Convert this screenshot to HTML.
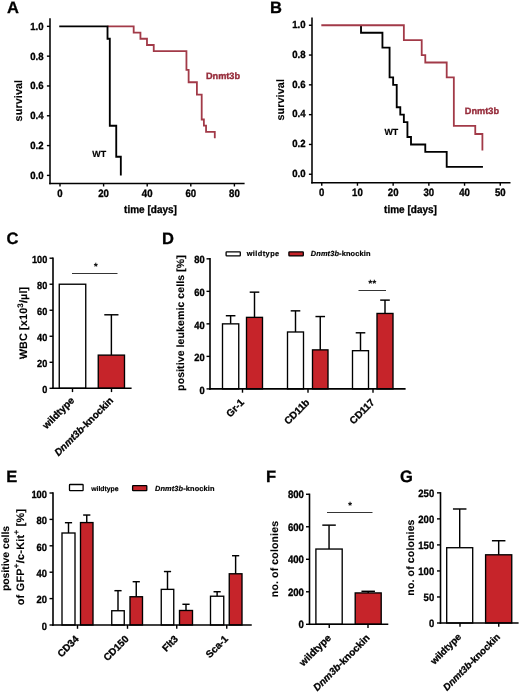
<!DOCTYPE html>
<html lang="en"><head><meta charset="utf-8"><title>Figure</title>
<style>
html,body{margin:0;padding:0;background:#fff;}
body{width:520px;height:693px;overflow:hidden;}
svg{display:block;text-rendering:geometricPrecision;font-family:"Liberation Sans",Arial,Helvetica,sans-serif;}
</style></head><body>
<svg width="520" height="693" viewBox="0 0 520 693">
<rect x="0" y="0" width="520" height="693" fill="#fff"/>
<g>
<path d="M107.52,26.35 L133.68,26.35 L133.68,32.56 L140.44,32.56 L140.44,38.77 L146.98,38.77 L146.98,44.98 L153.74,44.98 L153.74,51.19 L186.44,51.19 L186.44,69.82 L188.62,69.82 L188.62,82.24 L196.90,82.24 L196.90,94.66 L201.70,94.66 L201.70,119.51 L203.88,119.51 L203.88,125.72 L206.06,125.72 L206.06,131.93 L214.78,131.93 L214.78,138.14" fill="none" stroke="#a23a48" stroke-width="1.8" stroke-linejoin="miter" stroke-linecap="butt"/>
<path d="M59.24,26.35 L107.52,26.35 L107.52,38.77 L109.81,38.77 L109.81,125.72 L116.24,125.72 L116.24,156.77 L120.82,156.77 L120.82,175.40" fill="none" stroke="#000" stroke-width="1.85" stroke-linejoin="miter" stroke-linecap="butt"/>
<line x1="50.00" y1="18.30" x2="50.00" y2="184.25" stroke="#000" stroke-width="1.55" stroke-linecap="butt"/>
<line x1="49.20" y1="183.50" x2="244.60" y2="183.50" stroke="#000" stroke-width="1.55" stroke-linecap="butt"/>
<line x1="46.90" y1="175.40" x2="50.00" y2="175.40" stroke="#000" stroke-width="1.4" stroke-linecap="butt"/>
<text transform="translate(43.50 178.90) scale(1 1.08)" font-size="9.6" text-anchor="end" fill="#000" stroke="#000" stroke-width="0.3" font-weight="bold">0.0</text>
<line x1="46.90" y1="145.59" x2="50.00" y2="145.59" stroke="#000" stroke-width="1.4" stroke-linecap="butt"/>
<text transform="translate(43.50 149.09) scale(1 1.08)" font-size="9.6" text-anchor="end" fill="#000" stroke="#000" stroke-width="0.3" font-weight="bold">0.2</text>
<line x1="46.90" y1="115.78" x2="50.00" y2="115.78" stroke="#000" stroke-width="1.4" stroke-linecap="butt"/>
<text transform="translate(43.50 119.28) scale(1 1.08)" font-size="9.6" text-anchor="end" fill="#000" stroke="#000" stroke-width="0.3" font-weight="bold">0.4</text>
<line x1="46.90" y1="85.97" x2="50.00" y2="85.97" stroke="#000" stroke-width="1.4" stroke-linecap="butt"/>
<text transform="translate(43.50 89.47) scale(1 1.08)" font-size="9.6" text-anchor="end" fill="#000" stroke="#000" stroke-width="0.3" font-weight="bold">0.6</text>
<line x1="46.90" y1="56.16" x2="50.00" y2="56.16" stroke="#000" stroke-width="1.4" stroke-linecap="butt"/>
<text transform="translate(43.50 59.66) scale(1 1.08)" font-size="9.6" text-anchor="end" fill="#000" stroke="#000" stroke-width="0.3" font-weight="bold">0.8</text>
<line x1="46.90" y1="26.35" x2="50.00" y2="26.35" stroke="#000" stroke-width="1.4" stroke-linecap="butt"/>
<text transform="translate(43.50 29.85) scale(1 1.08)" font-size="9.6" text-anchor="end" fill="#000" stroke="#000" stroke-width="0.3" font-weight="bold">1.0</text>
<line x1="60.00" y1="183.50" x2="60.00" y2="186.50" stroke="#000" stroke-width="1.4" stroke-linecap="butt"/>
<text transform="translate(60.00 197.15) scale(1 1.12)" font-size="9.6" text-anchor="middle" fill="#000" stroke="#000" stroke-width="0.3" font-weight="bold">0</text>
<line x1="103.60" y1="183.50" x2="103.60" y2="186.50" stroke="#000" stroke-width="1.4" stroke-linecap="butt"/>
<text transform="translate(103.60 197.15) scale(1 1.12)" font-size="9.6" text-anchor="middle" fill="#000" stroke="#000" stroke-width="0.3" font-weight="bold">20</text>
<line x1="147.20" y1="183.50" x2="147.20" y2="186.50" stroke="#000" stroke-width="1.4" stroke-linecap="butt"/>
<text transform="translate(147.20 197.15) scale(1 1.12)" font-size="9.6" text-anchor="middle" fill="#000" stroke="#000" stroke-width="0.3" font-weight="bold">40</text>
<line x1="190.80" y1="183.50" x2="190.80" y2="186.50" stroke="#000" stroke-width="1.4" stroke-linecap="butt"/>
<text transform="translate(190.80 197.15) scale(1 1.12)" font-size="9.6" text-anchor="middle" fill="#000" stroke="#000" stroke-width="0.3" font-weight="bold">60</text>
<line x1="234.40" y1="183.50" x2="234.40" y2="186.50" stroke="#000" stroke-width="1.4" stroke-linecap="butt"/>
<text transform="translate(234.40 197.15) scale(1 1.12)" font-size="9.6" text-anchor="middle" fill="#000" stroke="#000" stroke-width="0.3" font-weight="bold">80</text>
<text transform="translate(150.50 212.80) scale(1 1.08)" font-size="10" text-anchor="middle" fill="#000" stroke="#000" stroke-width="0.3" font-weight="bold">time [days]</text>
<text x="21.90" y="100.60" font-size="10.8" text-anchor="middle" fill="#000" stroke="#000" stroke-width="0.12" font-weight="bold" transform="rotate(-90 21.90 100.60)" letter-spacing="0.1">survival</text>
<text x="205.90" y="78.60" font-size="9.2" text-anchor="start" fill="#962c3b" stroke="#962c3b" stroke-width="0.35" font-weight="bold">Dnmt3b</text>
<text x="92.30" y="157.20" font-size="8.9" text-anchor="start" fill="#000" stroke="#000" stroke-width="0.15" font-weight="bold">WT</text>
<text x="7.00" y="13.00" font-size="16.5" text-anchor="start" fill="#000" stroke="#000" stroke-width="0.3" font-weight="bold">A</text>
<path d="M361.02,25.25 L361.02,25.25 L361.02,32.70 L382.44,32.70 L382.44,47.60 L389.58,47.60 L389.58,77.40 L393.15,77.40 L393.15,84.85 L396.72,84.85 L396.72,107.20 L400.29,107.20 L400.29,114.65 L403.86,114.65 L403.86,122.10 L407.43,122.10 L407.43,137.00 L411.00,137.00 L411.00,144.45 L425.28,144.45 L425.28,151.90 L446.70,151.90 L446.70,166.80 L482.94,166.80" fill="none" stroke="#000" stroke-width="1.85" stroke-linejoin="miter" stroke-linecap="butt"/>
<path d="M321.32,25.25 L403.86,25.25 L403.86,40.15 L421.71,40.15 L421.71,55.05 L425.28,55.05 L425.28,62.50 L446.70,62.50 L446.70,77.40 L453.84,77.40 L453.84,125.82 L475.26,125.82 L475.26,134.02 L482.40,134.02 L482.40,150.41" fill="none" stroke="#a23a48" stroke-width="1.8" stroke-linejoin="miter" stroke-linecap="butt"/>
<line x1="312.00" y1="17.50" x2="312.00" y2="183.50" stroke="#000" stroke-width="1.55" stroke-linecap="butt"/>
<line x1="311.20" y1="182.75" x2="510.50" y2="182.75" stroke="#000" stroke-width="1.55" stroke-linecap="butt"/>
<line x1="308.90" y1="174.25" x2="312.00" y2="174.25" stroke="#000" stroke-width="1.4" stroke-linecap="butt"/>
<text transform="translate(305.50 176.95) scale(1 1.08)" font-size="9.6" text-anchor="end" fill="#000" stroke="#000" stroke-width="0.3" font-weight="bold">0.0</text>
<line x1="308.90" y1="144.45" x2="312.00" y2="144.45" stroke="#000" stroke-width="1.4" stroke-linecap="butt"/>
<text transform="translate(305.50 147.15) scale(1 1.08)" font-size="9.6" text-anchor="end" fill="#000" stroke="#000" stroke-width="0.3" font-weight="bold">0.2</text>
<line x1="308.90" y1="114.65" x2="312.00" y2="114.65" stroke="#000" stroke-width="1.4" stroke-linecap="butt"/>
<text transform="translate(305.50 117.35) scale(1 1.08)" font-size="9.6" text-anchor="end" fill="#000" stroke="#000" stroke-width="0.3" font-weight="bold">0.4</text>
<line x1="308.90" y1="84.85" x2="312.00" y2="84.85" stroke="#000" stroke-width="1.4" stroke-linecap="butt"/>
<text transform="translate(305.50 87.55) scale(1 1.08)" font-size="9.6" text-anchor="end" fill="#000" stroke="#000" stroke-width="0.3" font-weight="bold">0.6</text>
<line x1="308.90" y1="55.05" x2="312.00" y2="55.05" stroke="#000" stroke-width="1.4" stroke-linecap="butt"/>
<text transform="translate(305.50 57.75) scale(1 1.08)" font-size="9.6" text-anchor="end" fill="#000" stroke="#000" stroke-width="0.3" font-weight="bold">0.8</text>
<line x1="308.90" y1="25.25" x2="312.00" y2="25.25" stroke="#000" stroke-width="1.4" stroke-linecap="butt"/>
<text transform="translate(305.50 27.95) scale(1 1.08)" font-size="9.6" text-anchor="end" fill="#000" stroke="#000" stroke-width="0.3" font-weight="bold">1.0</text>
<line x1="321.75" y1="182.75" x2="321.75" y2="185.75" stroke="#000" stroke-width="1.4" stroke-linecap="butt"/>
<text transform="translate(321.75 196.40) scale(1 1.12)" font-size="9.6" text-anchor="middle" fill="#000" stroke="#000" stroke-width="0.3" font-weight="bold">0</text>
<line x1="357.45" y1="182.75" x2="357.45" y2="185.75" stroke="#000" stroke-width="1.4" stroke-linecap="butt"/>
<text transform="translate(357.45 196.40) scale(1 1.12)" font-size="9.6" text-anchor="middle" fill="#000" stroke="#000" stroke-width="0.3" font-weight="bold">10</text>
<line x1="393.15" y1="182.75" x2="393.15" y2="185.75" stroke="#000" stroke-width="1.4" stroke-linecap="butt"/>
<text transform="translate(393.15 196.40) scale(1 1.12)" font-size="9.6" text-anchor="middle" fill="#000" stroke="#000" stroke-width="0.3" font-weight="bold">20</text>
<line x1="428.85" y1="182.75" x2="428.85" y2="185.75" stroke="#000" stroke-width="1.4" stroke-linecap="butt"/>
<text transform="translate(428.85 196.40) scale(1 1.12)" font-size="9.6" text-anchor="middle" fill="#000" stroke="#000" stroke-width="0.3" font-weight="bold">30</text>
<line x1="464.55" y1="182.75" x2="464.55" y2="185.75" stroke="#000" stroke-width="1.4" stroke-linecap="butt"/>
<text transform="translate(464.55 196.40) scale(1 1.12)" font-size="9.6" text-anchor="middle" fill="#000" stroke="#000" stroke-width="0.3" font-weight="bold">40</text>
<line x1="500.25" y1="182.75" x2="500.25" y2="185.75" stroke="#000" stroke-width="1.4" stroke-linecap="butt"/>
<text transform="translate(500.25 196.40) scale(1 1.12)" font-size="9.6" text-anchor="middle" fill="#000" stroke="#000" stroke-width="0.3" font-weight="bold">50</text>
<text transform="translate(410.50 212.80) scale(1 1.08)" font-size="10" text-anchor="middle" fill="#000" stroke="#000" stroke-width="0.3" font-weight="bold">time [days]</text>
<text x="284.30" y="99.80" font-size="10.8" text-anchor="middle" fill="#000" stroke="#000" stroke-width="0.12" font-weight="bold" transform="rotate(-90 284.30 99.80)" letter-spacing="0.1">survival</text>
<text x="464.80" y="113.90" font-size="9.2" text-anchor="start" fill="#962c3b" stroke="#962c3b" stroke-width="0.35" font-weight="bold">Dnmt3b</text>
<text x="384.40" y="134.50" font-size="8.9" text-anchor="start" fill="#000" stroke="#000" stroke-width="0.15" font-weight="bold">WT</text>
<text x="270.00" y="13.00" font-size="16.5" text-anchor="start" fill="#000" stroke="#000" stroke-width="0.3" font-weight="bold">B</text>
<rect x="59.25" y="284.22" width="26.50" height="104.08" fill="#fff" stroke="#000" stroke-width="1.35"/>
<line x1="111.38" y1="314.79" x2="111.38" y2="355.12" stroke="#000" stroke-width="1.45" stroke-linecap="butt"/>
<line x1="104.28" y1="314.79" x2="118.47" y2="314.79" stroke="#000" stroke-width="1.45" stroke-linecap="butt"/>
<rect x="98.25" y="355.12" width="26.25" height="33.18" fill="#c6242a" stroke="#000" stroke-width="1.35"/>
<line x1="53.00" y1="257.55" x2="53.00" y2="389.05" stroke="#000" stroke-width="1.6" stroke-linecap="butt"/>
<line x1="52.20" y1="388.30" x2="131.60" y2="388.30" stroke="#000" stroke-width="1.6" stroke-linecap="butt"/>
<line x1="49.50" y1="388.30" x2="53.00" y2="388.30" stroke="#000" stroke-width="1.4" stroke-linecap="butt"/>
<text transform="translate(47.30 392.80) scale(1 1.12)" font-size="9.2" text-anchor="end" fill="#000" stroke="#000" stroke-width="0.3" font-weight="bold">0</text>
<line x1="49.50" y1="362.28" x2="53.00" y2="362.28" stroke="#000" stroke-width="1.4" stroke-linecap="butt"/>
<text transform="translate(47.30 366.78) scale(1 1.12)" font-size="9.2" text-anchor="end" fill="#000" stroke="#000" stroke-width="0.3" font-weight="bold">20</text>
<line x1="49.50" y1="336.26" x2="53.00" y2="336.26" stroke="#000" stroke-width="1.4" stroke-linecap="butt"/>
<text transform="translate(47.30 340.76) scale(1 1.12)" font-size="9.2" text-anchor="end" fill="#000" stroke="#000" stroke-width="0.3" font-weight="bold">40</text>
<line x1="49.50" y1="310.24" x2="53.00" y2="310.24" stroke="#000" stroke-width="1.4" stroke-linecap="butt"/>
<text transform="translate(47.30 314.74) scale(1 1.12)" font-size="9.2" text-anchor="end" fill="#000" stroke="#000" stroke-width="0.3" font-weight="bold">60</text>
<line x1="49.50" y1="284.22" x2="53.00" y2="284.22" stroke="#000" stroke-width="1.4" stroke-linecap="butt"/>
<text transform="translate(47.30 288.72) scale(1 1.12)" font-size="9.2" text-anchor="end" fill="#000" stroke="#000" stroke-width="0.3" font-weight="bold">80</text>
<line x1="49.50" y1="258.20" x2="53.00" y2="258.20" stroke="#000" stroke-width="1.4" stroke-linecap="butt"/>
<text transform="translate(47.30 262.70) scale(1 1.12)" font-size="9.2" text-anchor="end" fill="#000" stroke="#000" stroke-width="0.3" font-weight="bold">100</text>
<line x1="72.50" y1="388.30" x2="72.50" y2="392.10" stroke="#000" stroke-width="1.4" stroke-linecap="butt"/>
<text x="74.90" y="401.10" font-size="10" text-anchor="end" fill="#000" stroke="#000" stroke-width="0.3" font-weight="bold" transform="rotate(-45 74.90 401.10)">wildtype</text>
<line x1="111.50" y1="388.30" x2="111.50" y2="392.10" stroke="#000" stroke-width="1.4" stroke-linecap="butt"/>
<text x="113.90" y="401.10" font-size="10" text-anchor="end" fill="#000" stroke="#000" stroke-width="0.3" font-weight="bold" transform="rotate(-45 113.90 401.10)"><tspan font-style="italic">Dnmt3b</tspan>-knockin</text>
<line x1="72.00" y1="273.50" x2="117.50" y2="273.50" stroke="#111" stroke-width="0.85" stroke-linecap="butt"/>
<text x="95.75" y="270.20" font-size="10.5" text-anchor="middle" fill="#000" stroke="#000" stroke-width="0" font-weight="bold">*</text>
<text x="27.20" y="323.00" font-size="10.8" text-anchor="middle" fill="#000" stroke="#000" stroke-width="0.12" font-weight="bold" transform="rotate(-90 27.20 323.00)" letter-spacing="0.15">WBC [x10<tspan dy="-4.2" font-size="8">3</tspan><tspan dy="4.2">/µl]</tspan></text>
<text x="6.50" y="243.70" font-size="16.5" text-anchor="start" fill="#000" stroke="#000" stroke-width="0.3" font-weight="bold">C</text>
<line x1="230.62" y1="315.73" x2="230.62" y2="323.86" stroke="#000" stroke-width="1.45" stroke-linecap="butt"/>
<line x1="225.82" y1="315.73" x2="235.43" y2="315.73" stroke="#000" stroke-width="1.45" stroke-linecap="butt"/>
<rect x="222.50" y="323.86" width="16.25" height="65.04" fill="#fff" stroke="#000" stroke-width="1.35"/>
<line x1="254.50" y1="292.15" x2="254.50" y2="317.36" stroke="#000" stroke-width="1.45" stroke-linecap="butt"/>
<line x1="249.70" y1="292.15" x2="259.30" y2="292.15" stroke="#000" stroke-width="1.45" stroke-linecap="butt"/>
<rect x="246.50" y="317.36" width="16.00" height="71.54" fill="#c6242a" stroke="#000" stroke-width="1.35"/>
<line x1="295.50" y1="310.85" x2="295.50" y2="331.99" stroke="#000" stroke-width="1.45" stroke-linecap="butt"/>
<line x1="290.70" y1="310.85" x2="300.30" y2="310.85" stroke="#000" stroke-width="1.45" stroke-linecap="butt"/>
<rect x="287.50" y="331.99" width="16.00" height="56.91" fill="#fff" stroke="#000" stroke-width="1.35"/>
<line x1="320.25" y1="316.54" x2="320.25" y2="349.88" stroke="#000" stroke-width="1.45" stroke-linecap="butt"/>
<line x1="315.45" y1="316.54" x2="325.05" y2="316.54" stroke="#000" stroke-width="1.45" stroke-linecap="butt"/>
<rect x="312.50" y="349.88" width="15.50" height="39.02" fill="#c6242a" stroke="#000" stroke-width="1.35"/>
<line x1="360.50" y1="332.80" x2="360.50" y2="350.69" stroke="#000" stroke-width="1.45" stroke-linecap="butt"/>
<line x1="355.70" y1="332.80" x2="365.30" y2="332.80" stroke="#000" stroke-width="1.45" stroke-linecap="butt"/>
<rect x="352.50" y="350.69" width="16.00" height="38.21" fill="#fff" stroke="#000" stroke-width="1.35"/>
<line x1="385.00" y1="300.12" x2="385.00" y2="313.45" stroke="#000" stroke-width="1.45" stroke-linecap="butt"/>
<line x1="380.20" y1="300.12" x2="389.80" y2="300.12" stroke="#000" stroke-width="1.45" stroke-linecap="butt"/>
<rect x="377.00" y="313.45" width="16.00" height="75.45" fill="#c6242a" stroke="#000" stroke-width="1.35"/>
<line x1="210.00" y1="258.10" x2="210.00" y2="389.65" stroke="#000" stroke-width="1.6" stroke-linecap="butt"/>
<line x1="209.20" y1="388.90" x2="405.60" y2="388.90" stroke="#000" stroke-width="1.6" stroke-linecap="butt"/>
<line x1="206.50" y1="388.90" x2="210.00" y2="388.90" stroke="#000" stroke-width="1.4" stroke-linecap="butt"/>
<text transform="translate(204.60 393.55) scale(1 1.12)" font-size="9.35" text-anchor="end" fill="#000" stroke="#000" stroke-width="0.3" font-weight="bold">0</text>
<line x1="206.50" y1="356.38" x2="210.00" y2="356.38" stroke="#000" stroke-width="1.4" stroke-linecap="butt"/>
<text transform="translate(204.60 361.03) scale(1 1.12)" font-size="9.35" text-anchor="end" fill="#000" stroke="#000" stroke-width="0.3" font-weight="bold">20</text>
<line x1="206.50" y1="323.86" x2="210.00" y2="323.86" stroke="#000" stroke-width="1.4" stroke-linecap="butt"/>
<text transform="translate(204.60 328.51) scale(1 1.12)" font-size="9.35" text-anchor="end" fill="#000" stroke="#000" stroke-width="0.3" font-weight="bold">40</text>
<line x1="206.50" y1="291.34" x2="210.00" y2="291.34" stroke="#000" stroke-width="1.4" stroke-linecap="butt"/>
<text transform="translate(204.60 295.99) scale(1 1.12)" font-size="9.35" text-anchor="end" fill="#000" stroke="#000" stroke-width="0.3" font-weight="bold">60</text>
<line x1="206.50" y1="258.82" x2="210.00" y2="258.82" stroke="#000" stroke-width="1.4" stroke-linecap="butt"/>
<text transform="translate(204.60 263.47) scale(1 1.12)" font-size="9.35" text-anchor="end" fill="#000" stroke="#000" stroke-width="0.3" font-weight="bold">80</text>
<line x1="242.50" y1="388.90" x2="242.50" y2="392.70" stroke="#000" stroke-width="1.4" stroke-linecap="butt"/>
<text x="244.70" y="403.10" font-size="10" text-anchor="end" fill="#000" stroke="#000" stroke-width="0.3" font-weight="bold" transform="rotate(-45 244.70 403.10)">Gr-1</text>
<line x1="308.00" y1="388.90" x2="308.00" y2="392.70" stroke="#000" stroke-width="1.4" stroke-linecap="butt"/>
<text x="310.20" y="403.10" font-size="10" text-anchor="end" fill="#000" stroke="#000" stroke-width="0.3" font-weight="bold" transform="rotate(-45 310.20 403.10)">CD11b</text>
<line x1="373.00" y1="388.90" x2="373.00" y2="392.70" stroke="#000" stroke-width="1.4" stroke-linecap="butt"/>
<text x="375.20" y="403.10" font-size="10" text-anchor="end" fill="#000" stroke="#000" stroke-width="0.3" font-weight="bold" transform="rotate(-45 375.20 403.10)">CD117</text>
<line x1="358.50" y1="290.50" x2="386.00" y2="290.50" stroke="#111" stroke-width="0.85" stroke-linecap="butt"/>
<text x="372.25" y="287.20" font-size="10.5" text-anchor="middle" fill="#000" stroke="#000" stroke-width="0" font-weight="bold">**</text>
<text x="183.70" y="323.00" font-size="10.5" text-anchor="middle" fill="#000" stroke="#000" stroke-width="0.12" font-weight="bold" transform="rotate(-90 183.70 323.00)" letter-spacing="0.1">positive leukemic cells [%]</text>
<text x="162.00" y="243.70" font-size="16.5" text-anchor="start" fill="#000" stroke="#000" stroke-width="0.3" font-weight="bold">D</text>
<rect x="226.10" y="251.90" width="14.20" height="4.00" rx="0.6" fill="#fff" stroke="#000" stroke-width="1.3"/>
<text x="246.70" y="256.40" font-size="7.4" text-anchor="start" fill="#000" stroke="#000" stroke-width="0.2" font-weight="bold" textLength="32.5" lengthAdjust="spacing">wildtype</text>
<rect x="288.90" y="251.90" width="14.40" height="4.00" rx="0.6" fill="#c6242a" stroke="#000" stroke-width="1.3"/>
<text x="310.80" y="256.40" font-size="7.4" text-anchor="start" fill="#000" stroke="#000" stroke-width="0.2" font-weight="bold" textLength="59.6" lengthAdjust="spacing"><tspan font-style="italic">Dnmt3b</tspan>-knockin</text>
<line x1="68.50" y1="522.70" x2="68.50" y2="533.00" stroke="#000" stroke-width="1.45" stroke-linecap="butt"/>
<line x1="64.90" y1="522.70" x2="72.10" y2="522.70" stroke="#000" stroke-width="1.45" stroke-linecap="butt"/>
<rect x="62.00" y="533.00" width="13.00" height="92.00" fill="#fff" stroke="#000" stroke-width="1.35"/>
<line x1="86.75" y1="515.04" x2="86.75" y2="522.57" stroke="#000" stroke-width="1.45" stroke-linecap="butt"/>
<line x1="83.15" y1="515.04" x2="90.35" y2="515.04" stroke="#000" stroke-width="1.45" stroke-linecap="butt"/>
<rect x="80.50" y="522.57" width="12.50" height="102.43" fill="#c6242a" stroke="#000" stroke-width="1.35"/>
<line x1="118.00" y1="590.68" x2="118.00" y2="610.74" stroke="#000" stroke-width="1.45" stroke-linecap="butt"/>
<line x1="114.40" y1="590.68" x2="121.60" y2="590.68" stroke="#000" stroke-width="1.45" stroke-linecap="butt"/>
<rect x="111.75" y="610.74" width="12.50" height="14.26" fill="#fff" stroke="#000" stroke-width="1.35"/>
<line x1="136.25" y1="581.70" x2="136.25" y2="596.75" stroke="#000" stroke-width="1.45" stroke-linecap="butt"/>
<line x1="132.65" y1="581.70" x2="139.85" y2="581.70" stroke="#000" stroke-width="1.45" stroke-linecap="butt"/>
<rect x="130.00" y="596.75" width="12.50" height="28.25" fill="#c6242a" stroke="#000" stroke-width="1.35"/>
<line x1="167.50" y1="571.54" x2="167.50" y2="589.36" stroke="#000" stroke-width="1.45" stroke-linecap="butt"/>
<line x1="163.90" y1="571.54" x2="171.10" y2="571.54" stroke="#000" stroke-width="1.45" stroke-linecap="butt"/>
<rect x="161.25" y="589.36" width="12.50" height="35.64" fill="#fff" stroke="#000" stroke-width="1.35"/>
<line x1="186.00" y1="604.28" x2="186.00" y2="610.48" stroke="#000" stroke-width="1.45" stroke-linecap="butt"/>
<line x1="182.40" y1="604.28" x2="189.60" y2="604.28" stroke="#000" stroke-width="1.45" stroke-linecap="butt"/>
<rect x="179.50" y="610.48" width="13.00" height="14.52" fill="#c6242a" stroke="#000" stroke-width="1.35"/>
<line x1="217.12" y1="591.74" x2="217.12" y2="596.22" stroke="#000" stroke-width="1.45" stroke-linecap="butt"/>
<line x1="213.53" y1="591.74" x2="220.72" y2="591.74" stroke="#000" stroke-width="1.45" stroke-linecap="butt"/>
<rect x="210.50" y="596.22" width="13.25" height="28.78" fill="#fff" stroke="#000" stroke-width="1.35"/>
<line x1="235.62" y1="555.70" x2="235.62" y2="573.78" stroke="#000" stroke-width="1.45" stroke-linecap="butt"/>
<line x1="232.03" y1="555.70" x2="239.22" y2="555.70" stroke="#000" stroke-width="1.45" stroke-linecap="butt"/>
<rect x="229.25" y="573.78" width="12.75" height="51.22" fill="#c6242a" stroke="#000" stroke-width="1.35"/>
<line x1="53.00" y1="492.30" x2="53.00" y2="625.75" stroke="#000" stroke-width="1.6" stroke-linecap="butt"/>
<line x1="52.20" y1="625.00" x2="251.75" y2="625.00" stroke="#000" stroke-width="1.6" stroke-linecap="butt"/>
<line x1="49.50" y1="625.00" x2="53.00" y2="625.00" stroke="#000" stroke-width="1.4" stroke-linecap="butt"/>
<text transform="translate(47.00 629.80) scale(1 1.12)" font-size="9.35" text-anchor="end" fill="#000" stroke="#000" stroke-width="0.3" font-weight="bold">0</text>
<line x1="49.50" y1="598.60" x2="53.00" y2="598.60" stroke="#000" stroke-width="1.4" stroke-linecap="butt"/>
<text transform="translate(47.00 603.40) scale(1 1.12)" font-size="9.35" text-anchor="end" fill="#000" stroke="#000" stroke-width="0.3" font-weight="bold">20</text>
<line x1="49.50" y1="572.20" x2="53.00" y2="572.20" stroke="#000" stroke-width="1.4" stroke-linecap="butt"/>
<text transform="translate(47.00 577.00) scale(1 1.12)" font-size="9.35" text-anchor="end" fill="#000" stroke="#000" stroke-width="0.3" font-weight="bold">40</text>
<line x1="49.50" y1="545.80" x2="53.00" y2="545.80" stroke="#000" stroke-width="1.4" stroke-linecap="butt"/>
<text transform="translate(47.00 550.60) scale(1 1.12)" font-size="9.35" text-anchor="end" fill="#000" stroke="#000" stroke-width="0.3" font-weight="bold">60</text>
<line x1="49.50" y1="519.40" x2="53.00" y2="519.40" stroke="#000" stroke-width="1.4" stroke-linecap="butt"/>
<text transform="translate(47.00 524.20) scale(1 1.12)" font-size="9.35" text-anchor="end" fill="#000" stroke="#000" stroke-width="0.3" font-weight="bold">80</text>
<line x1="49.50" y1="493.00" x2="53.00" y2="493.00" stroke="#000" stroke-width="1.4" stroke-linecap="butt"/>
<text transform="translate(47.00 497.80) scale(1 1.12)" font-size="9.35" text-anchor="end" fill="#000" stroke="#000" stroke-width="0.3" font-weight="bold">100</text>
<line x1="77.50" y1="625.00" x2="77.50" y2="628.80" stroke="#000" stroke-width="1.4" stroke-linecap="butt"/>
<text x="79.50" y="639.60" font-size="10" text-anchor="end" fill="#000" stroke="#000" stroke-width="0.3" font-weight="bold" transform="rotate(-45 79.50 639.60)">CD34</text>
<line x1="127.50" y1="625.00" x2="127.50" y2="628.80" stroke="#000" stroke-width="1.4" stroke-linecap="butt"/>
<text x="129.50" y="639.60" font-size="10" text-anchor="end" fill="#000" stroke="#000" stroke-width="0.3" font-weight="bold" transform="rotate(-45 129.50 639.60)">CD150</text>
<line x1="176.75" y1="625.00" x2="176.75" y2="628.80" stroke="#000" stroke-width="1.4" stroke-linecap="butt"/>
<text x="178.75" y="639.60" font-size="10" text-anchor="end" fill="#000" stroke="#000" stroke-width="0.3" font-weight="bold" transform="rotate(-45 178.75 639.60)">Flt3</text>
<line x1="226.75" y1="625.00" x2="226.75" y2="628.80" stroke="#000" stroke-width="1.4" stroke-linecap="butt"/>
<text x="228.75" y="639.60" font-size="10" text-anchor="end" fill="#000" stroke="#000" stroke-width="0.3" font-weight="bold" transform="rotate(-45 228.75 639.60)">Sca-1</text>
<text x="9.20" y="558.50" font-size="10.4" text-anchor="middle" fill="#000" stroke="#000" stroke-width="0.12" font-weight="bold" transform="rotate(-90 9.20 558.50)" letter-spacing="0">positive cells</text>
<text x="23.70" y="557.00" font-size="10.8" text-anchor="middle" fill="#000" stroke="#000" stroke-width="0.12" font-weight="bold" transform="rotate(-90 23.70 557.00)" letter-spacing="0.28">of GFP<tspan dy="-4.2" font-size="8">+</tspan><tspan dy="4.2">/c-Kit</tspan><tspan dy="-4.2" font-size="8">+</tspan><tspan dy="4.2"> [%]</tspan></text>
<text x="6.20" y="481.80" font-size="16.5" text-anchor="start" fill="#000" stroke="#000" stroke-width="0.3" font-weight="bold">E</text>
<rect x="69.50" y="484.50" width="13.60" height="6.20" rx="0.6" fill="#fff" stroke="#000" stroke-width="1.3"/>
<text x="91.30" y="491.30" font-size="6.8" text-anchor="start" fill="#000" stroke="#000" stroke-width="0.2" font-weight="bold" textLength="27.2" lengthAdjust="spacing">wildtype</text>
<rect x="132.60" y="485.60" width="14.20" height="5.00" rx="0.6" fill="#c6242a" stroke="#000" stroke-width="1.3"/>
<text x="155.00" y="491.30" font-size="7.4" text-anchor="start" fill="#000" stroke="#000" stroke-width="0.2" font-weight="bold" textLength="59.4" lengthAdjust="spacing"><tspan font-style="italic">Dnmt3b</tspan>-knockin</text>
<line x1="329.05" y1="525.14" x2="329.05" y2="549.04" stroke="#000" stroke-width="1.45" stroke-linecap="butt"/>
<line x1="322.30" y1="525.14" x2="335.80" y2="525.14" stroke="#000" stroke-width="1.45" stroke-linecap="butt"/>
<rect x="315.90" y="549.04" width="26.30" height="75.26" fill="#fff" stroke="#000" stroke-width="1.35"/>
<line x1="368.20" y1="591.30" x2="368.20" y2="592.93" stroke="#000" stroke-width="1.45" stroke-linecap="butt"/>
<line x1="361.45" y1="591.30" x2="374.95" y2="591.30" stroke="#000" stroke-width="1.45" stroke-linecap="butt"/>
<rect x="355.20" y="592.93" width="26.00" height="31.37" fill="#c6242a" stroke="#000" stroke-width="1.35"/>
<line x1="309.50" y1="493.60" x2="309.50" y2="625.05" stroke="#000" stroke-width="1.6" stroke-linecap="butt"/>
<line x1="308.70" y1="624.30" x2="388.30" y2="624.30" stroke="#000" stroke-width="1.6" stroke-linecap="butt"/>
<line x1="306.00" y1="624.30" x2="309.50" y2="624.30" stroke="#000" stroke-width="1.4" stroke-linecap="butt"/>
<text transform="translate(303.90 628.15) scale(1 1.12)" font-size="9.6" text-anchor="end" fill="#000" stroke="#000" stroke-width="0.3" font-weight="bold">0</text>
<line x1="306.00" y1="591.79" x2="309.50" y2="591.79" stroke="#000" stroke-width="1.4" stroke-linecap="butt"/>
<text transform="translate(303.90 595.64) scale(1 1.12)" font-size="9.6" text-anchor="end" fill="#000" stroke="#000" stroke-width="0.3" font-weight="bold">200</text>
<line x1="306.00" y1="559.28" x2="309.50" y2="559.28" stroke="#000" stroke-width="1.4" stroke-linecap="butt"/>
<text transform="translate(303.90 563.13) scale(1 1.12)" font-size="9.6" text-anchor="end" fill="#000" stroke="#000" stroke-width="0.3" font-weight="bold">400</text>
<line x1="306.00" y1="526.77" x2="309.50" y2="526.77" stroke="#000" stroke-width="1.4" stroke-linecap="butt"/>
<text transform="translate(303.90 530.62) scale(1 1.12)" font-size="9.6" text-anchor="end" fill="#000" stroke="#000" stroke-width="0.3" font-weight="bold">600</text>
<line x1="306.00" y1="494.26" x2="309.50" y2="494.26" stroke="#000" stroke-width="1.4" stroke-linecap="butt"/>
<text transform="translate(303.90 498.11) scale(1 1.12)" font-size="9.6" text-anchor="end" fill="#000" stroke="#000" stroke-width="0.3" font-weight="bold">800</text>
<line x1="329.25" y1="624.30" x2="329.25" y2="628.10" stroke="#000" stroke-width="1.4" stroke-linecap="butt"/>
<text x="331.65" y="638.50" font-size="10" text-anchor="end" fill="#000" stroke="#000" stroke-width="0.3" font-weight="bold" transform="rotate(-45 331.65 638.50)">wildtype</text>
<line x1="368.00" y1="624.30" x2="368.00" y2="628.10" stroke="#000" stroke-width="1.4" stroke-linecap="butt"/>
<text x="370.40" y="638.50" font-size="10" text-anchor="end" fill="#000" stroke="#000" stroke-width="0.3" font-weight="bold" transform="rotate(-45 370.40 638.50)"><tspan font-style="italic">Dnm3b</tspan>-knockin</text>
<line x1="327.00" y1="512.50" x2="372.50" y2="512.50" stroke="#111" stroke-width="0.85" stroke-linecap="butt"/>
<text x="350.05" y="509.20" font-size="10.5" text-anchor="middle" fill="#000" stroke="#000" stroke-width="0" font-weight="bold">*</text>
<text x="277.80" y="559.00" font-size="10.6" text-anchor="middle" fill="#000" stroke="#000" stroke-width="0.12" font-weight="bold" transform="rotate(-90 277.80 559.00)" letter-spacing="0.1">no. of colonies</text>
<text x="266.00" y="482.00" font-size="16.5" text-anchor="start" fill="#000" stroke="#000" stroke-width="0.3" font-weight="bold">F</text>
<line x1="459.70" y1="508.99" x2="459.70" y2="547.72" stroke="#000" stroke-width="1.45" stroke-linecap="butt"/>
<line x1="452.95" y1="508.99" x2="466.45" y2="508.99" stroke="#000" stroke-width="1.45" stroke-linecap="butt"/>
<rect x="446.70" y="547.72" width="26.00" height="75.28" fill="#fff" stroke="#000" stroke-width="1.35"/>
<line x1="498.68" y1="540.75" x2="498.68" y2="554.80" stroke="#000" stroke-width="1.45" stroke-linecap="butt"/>
<line x1="491.93" y1="540.75" x2="505.43" y2="540.75" stroke="#000" stroke-width="1.45" stroke-linecap="butt"/>
<rect x="485.60" y="554.80" width="26.15" height="68.20" fill="#c6242a" stroke="#000" stroke-width="1.35"/>
<line x1="440.50" y1="492.15" x2="440.50" y2="623.75" stroke="#000" stroke-width="1.6" stroke-linecap="butt"/>
<line x1="439.70" y1="623.00" x2="518.60" y2="623.00" stroke="#000" stroke-width="1.6" stroke-linecap="butt"/>
<line x1="437.00" y1="623.00" x2="440.50" y2="623.00" stroke="#000" stroke-width="1.4" stroke-linecap="butt"/>
<text transform="translate(434.20 627.40) scale(1 1.12)" font-size="9.5" text-anchor="end" fill="#000" stroke="#000" stroke-width="0.3" font-weight="bold">0</text>
<line x1="437.00" y1="596.97" x2="440.50" y2="596.97" stroke="#000" stroke-width="1.4" stroke-linecap="butt"/>
<text transform="translate(434.20 601.37) scale(1 1.12)" font-size="9.5" text-anchor="end" fill="#000" stroke="#000" stroke-width="0.3" font-weight="bold">50</text>
<line x1="437.00" y1="570.94" x2="440.50" y2="570.94" stroke="#000" stroke-width="1.4" stroke-linecap="butt"/>
<text transform="translate(434.20 575.34) scale(1 1.12)" font-size="9.5" text-anchor="end" fill="#000" stroke="#000" stroke-width="0.3" font-weight="bold">100</text>
<line x1="437.00" y1="544.91" x2="440.50" y2="544.91" stroke="#000" stroke-width="1.4" stroke-linecap="butt"/>
<text transform="translate(434.20 549.31) scale(1 1.12)" font-size="9.5" text-anchor="end" fill="#000" stroke="#000" stroke-width="0.3" font-weight="bold">150</text>
<line x1="437.00" y1="518.88" x2="440.50" y2="518.88" stroke="#000" stroke-width="1.4" stroke-linecap="butt"/>
<text transform="translate(434.20 523.28) scale(1 1.12)" font-size="9.5" text-anchor="end" fill="#000" stroke="#000" stroke-width="0.3" font-weight="bold">200</text>
<line x1="437.00" y1="492.85" x2="440.50" y2="492.85" stroke="#000" stroke-width="1.4" stroke-linecap="butt"/>
<text transform="translate(434.20 497.25) scale(1 1.12)" font-size="9.5" text-anchor="end" fill="#000" stroke="#000" stroke-width="0.3" font-weight="bold">250</text>
<line x1="460.00" y1="623.00" x2="460.00" y2="626.80" stroke="#000" stroke-width="1.4" stroke-linecap="butt"/>
<text x="461.90" y="637.50" font-size="9.7" text-anchor="end" fill="#000" stroke="#000" stroke-width="0.3" font-weight="bold" transform="rotate(-45 461.90 637.50)">wildtype</text>
<line x1="498.75" y1="623.00" x2="498.75" y2="626.80" stroke="#000" stroke-width="1.4" stroke-linecap="butt"/>
<text x="500.65" y="637.50" font-size="9.7" text-anchor="end" fill="#000" stroke="#000" stroke-width="0.3" font-weight="bold" transform="rotate(-45 500.65 637.50)"><tspan font-style="italic">Dnmt3b</tspan>-knockin</text>
<text x="414.40" y="557.50" font-size="10.6" text-anchor="middle" fill="#000" stroke="#000" stroke-width="0.12" font-weight="bold" transform="rotate(-90 414.40 557.50)" letter-spacing="0.1">no. of colonies</text>
<text x="400.00" y="482.00" font-size="16.5" text-anchor="start" fill="#000" stroke="#000" stroke-width="0.3" font-weight="bold">G</text>
</g>
</svg>
</body></html>
